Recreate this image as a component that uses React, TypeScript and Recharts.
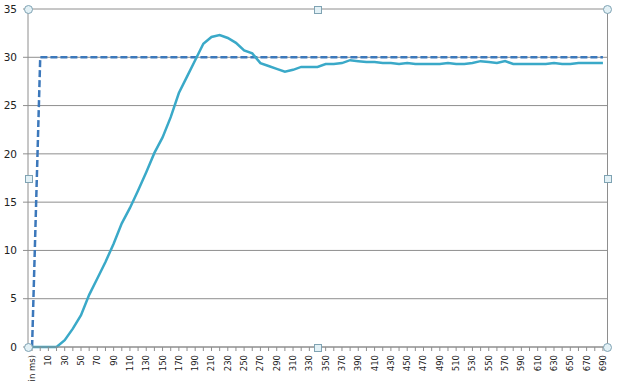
import React from "react";
import { LineChart, Line, XAxis, YAxis, CartesianGrid } from "recharts";

const categories = [
  "Time (in ms)", "0", "10", "20", "30", "40", "50", "60", "70", "80", "90",
  "100", "110", "120", "130", "140", "150", "160", "170", "180", "190",
  "200", "210", "220", "230", "240", "250", "260", "270", "280", "290",
  "300", "310", "320", "330", "340", "350", "360", "370", "380", "390",
  "400", "410", "420", "430", "440", "450", "460", "470", "480", "490",
  "500", "510", "520", "530", "540", "550", "560", "570", "580", "590",
  "600", "610", "620", "630", "640", "650", "660", "670", "680", "690",
];

const setpoint = [
  0, 30, 30, 30, 30, 30, 30, 30, 30, 30, 30,
  30, 30, 30, 30, 30, 30, 30, 30, 30, 30,
  30, 30, 30, 30, 30, 30, 30, 30, 30, 30,
  30, 30, 30, 30, 30, 30, 30, 30, 30, 30,
  30, 30, 30, 30, 30, 30, 30, 30, 30, 30,
  30, 30, 30, 30, 30, 30, 30, 30, 30, 30,
  30, 30, 30, 30, 30, 30, 30, 30, 30, 30,
];

const measured = [
  0, 0, 0, 0, 0.7, 1.9, 3.3, 5.4, 7.1, 8.8, 10.7,
  12.8, 14.4, 16.2, 18.1, 20.1, 21.7, 23.8, 26.3, 28.0, 29.7,
  31.4, 32.1, 32.3, 32.0, 31.5, 30.7, 30.4, 29.4, 29.1, 28.8,
  28.5, 28.7, 29.0, 29.0, 29.0, 29.3, 29.3, 29.4, 29.7, 29.6,
  29.5, 29.5, 29.4, 29.4, 29.3, 29.4, 29.3, 29.3, 29.3, 29.3,
  29.4, 29.3, 29.3, 29.4, 29.6, 29.5, 29.4, 29.6, 29.3, 29.3,
  29.3, 29.3, 29.3, 29.4, 29.3, 29.3, 29.4, 29.4, 29.4, 29.4,
];

const yTicks = [0, 5, 10, 15, 20, 25, 30, 35];

const data = categories.map((c, i) => ({
  name: c,
  setpoint: setpoint[i],
  measured: measured[i],
}));

const FONT = "'DejaVu Sans', Verdana, sans-serif";

function CatTick(props: any) {
  const { x, y, payload, index } = props;
  if (index % 2 !== 0) return null;
  return (
    <text
      x={x}
      y={y}
      transform={`rotate(-90, ${x}, ${y})`}
      textAnchor="end"
      dy="0.35em"
      fontSize={8.5}
      fontFamily={FONT}
      fill="#222"
    >
      {payload.value}
    </text>
  );
}

// excel-style selection handles around the plot area
const handle = (left: number, top: number, round: boolean) => (
  <div
    style={{
      position: "absolute",
      left: left - (round ? 4 : 3),
      top: top - (round ? 4 : 3),
      width: round ? 7 : 6,
      height: round ? 7 : 6,
      borderRadius: round ? "50%" : 0,
      background: "#e3f1f6",
      border: "1px solid #7fa3b3",
    }}
  />
);

export default function App() {
  return (
    <div
      style={{
        position: "absolute",
        left: 0,
        top: 0,
        width: 619,
        height: 382,
        background: "#fff",
        overflow: "hidden",
      }}
    >
      <LineChart
        width={619}
        height={382}
        data={data}
        margin={{ top: 9, right: 12, bottom: 0, left: 0 }}
      >
        <CartesianGrid vertical={false} stroke="#8e8e8e" />
        <XAxis
          dataKey="name"
          scale="band"
          interval={0}
          height={35}
          tickSize={4}
          tickMargin={4}
          stroke="#8e8e8e"
          tick={<CatTick />}
        />
        <YAxis
          width={28}
          domain={[0, 35]}
          ticks={yTicks}
          tickSize={5}
          tickMargin={6}
          stroke="#8e8e8e"
          tick={{ fontSize: 10.5, fontFamily: FONT, fill: "#222" }}
        />
        <Line
          dataKey="setpoint"
          type="linear"
          stroke="#3c78bb"
          strokeWidth={2.5}
          strokeDasharray="7 3"
          dot={false}
          isAnimationActive={false}
        />
        <Line
          dataKey="measured"
          type="linear"
          stroke="#3aa9c8"
          strokeWidth={2.5}
          dot={false}
          isAnimationActive={false}
        />
      </LineChart>
      <div
        style={{
          position: "absolute",
          left: 607,
          top: 9,
          width: 1,
          height: 338,
          background: "#8e8e8e",
        }}
      />
      {handle(28, 9, true)}
      {handle(607, 9, true)}
      {handle(28, 347, true)}
      {handle(607, 347, true)}
      {handle(317, 9, false)}
      {handle(317, 347, false)}
      {handle(28, 178, false)}
      {handle(607, 178, false)}
    </div>
  );
}
